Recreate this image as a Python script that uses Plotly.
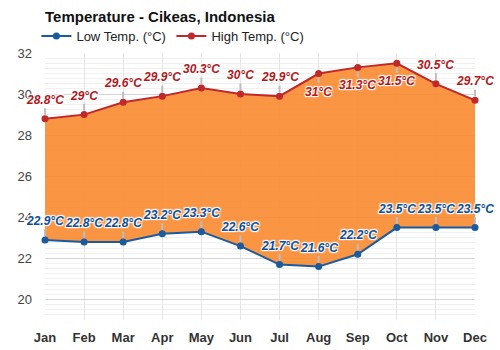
import plotly.graph_objects as go

months = ["Jan", "Feb", "Mar", "Apr", "May", "Jun", "Jul", "Aug", "Sep", "Oct", "Nov", "Dec"]
high_temps = [28.8, 29, 29.6, 29.9, 30.3, 30, 29.9, 31, 31.3, 31.5, 30.5, 29.7]
low_temps = [22.9, 22.8, 22.8, 23.2, 23.3, 22.6, 21.7, 21.6, 22.2, 23.5, 23.5, 23.5]
# months whose high label sits under the line
high_label_below = ["Aug", "Sep", "Oct"]

HIGH_COLOR = "#c0282a"
HIGH_TEXT = "#b3171b"
LOW_COLOR = "#1a5a9e"
LOW_TEXT = "#0b4f9a"
FONT = "Liberation Sans, Arial, sans-serif"
OUTLINE = "1px 1px 1px #fff, -1px -1px 1px #fff, 1px -1px 1px #fff, -1px 1px 1px #fff, 0 0 2px #fff"

x_idx = list(range(len(months)))

fig = go.Figure()
fig.add_trace(go.Scatter(
    x=x_idx, y=low_temps, name="Low Temp. (°C)", mode="lines+markers",
    line=dict(color=LOW_COLOR, width=2), marker=dict(size=7, color=LOW_COLOR),
    cliponaxis=False,
))
# orange band between the low and high series
fig.add_trace(go.Scatter(
    x=x_idx, y=high_temps, mode="none", showlegend=False,
    fill="tonexty", fillcolor="rgba(250,138,48,0.9)",
))
fig.add_trace(go.Scatter(
    x=x_idx, y=high_temps, name="High Temp. (°C)", mode="lines+markers",
    line=dict(color=HIGH_COLOR, width=2), marker=dict(size=7, color=HIGH_COLOR),
    cliponaxis=False,
))


def fmt(v):
    return (f"{v:g}") + "°C"


annotations = []
for i, (m, v) in enumerate(zip(months, high_temps)):
    below = m in high_label_below
    annotations.append(dict(
        x=i, y=v, xref="x", yref="y", text=fmt(v),
        showarrow=True, arrowhead=0, arrowwidth=2, arrowcolor="#bdbdbd",
        ax=0, ay=18 if below else -19, standoff=4,
        font=dict(family=FONT, size=12, color=HIGH_TEXT, weight="bold",
                  style="italic", shadow=OUTLINE),
    ))
for i, v in enumerate(low_temps):
    annotations.append(dict(
        x=i, y=v, xref="x", yref="y", text=fmt(v),
        showarrow=True, arrowhead=0, arrowwidth=2, arrowcolor="#bdbdbd",
        ax=0, ay=-19, standoff=4,
        font=dict(family=FONT, size=12, color=LOW_TEXT, weight="bold",
                  style="italic", shadow=OUTLINE),
    ))

fig.update_layout(
    width=500, height=350,
    margin=dict(l=45, r=25, t=53, b=30, autoexpand=False),
    paper_bgcolor="white", plot_bgcolor="white",
    font=dict(family=FONT, size=13, color="#333"),
    title=dict(text="<b>Temperature - Cikeas, Indonesia</b>", x=0, xref="paper",
               xanchor="left", y=1 - 17 / 350, yref="container", yanchor="middle",
               font=dict(family=FONT, size=15, color="#111")),
    legend=dict(orientation="h", x=-0.02, xanchor="left", xref="paper",
                y=1 + 32 / 267, yref="paper", yanchor="top",
                font=dict(family=FONT, size=13, color="#222"),
                traceorder="normal", entrywidth=90, entrywidthmode="pixels",
                bgcolor="rgba(0,0,0,0)"),
    showlegend=True,
    annotations=annotations,
    hovermode=False,
)
fig.update_xaxes(
    range=[0, 11], tickmode="array", tickvals=x_idx, ticktext=[f"<b>{m}</b>" for m in months],
    showgrid=True, gridcolor="#e6e6e6", gridwidth=1, zeroline=False, showline=False,
    ticks="", ticklabelstandoff=8, tickfont=dict(family=FONT, size=13, color="#333"),
)
fig.update_yaxes(
    range=[19, 32], tick0=20, dtick=2, showgrid=True, gridcolor="#d6d6d6", gridwidth=1,
    minor=dict(dtick=0.25, showgrid=True, gridcolor="#f0f0f0", gridwidth=1),
    zeroline=False, showline=False, ticks="", ticklabelstandoff=12,
    tickfont=dict(family=FONT, size=13, color="#444"),
)

fig.write_html("out.html")
